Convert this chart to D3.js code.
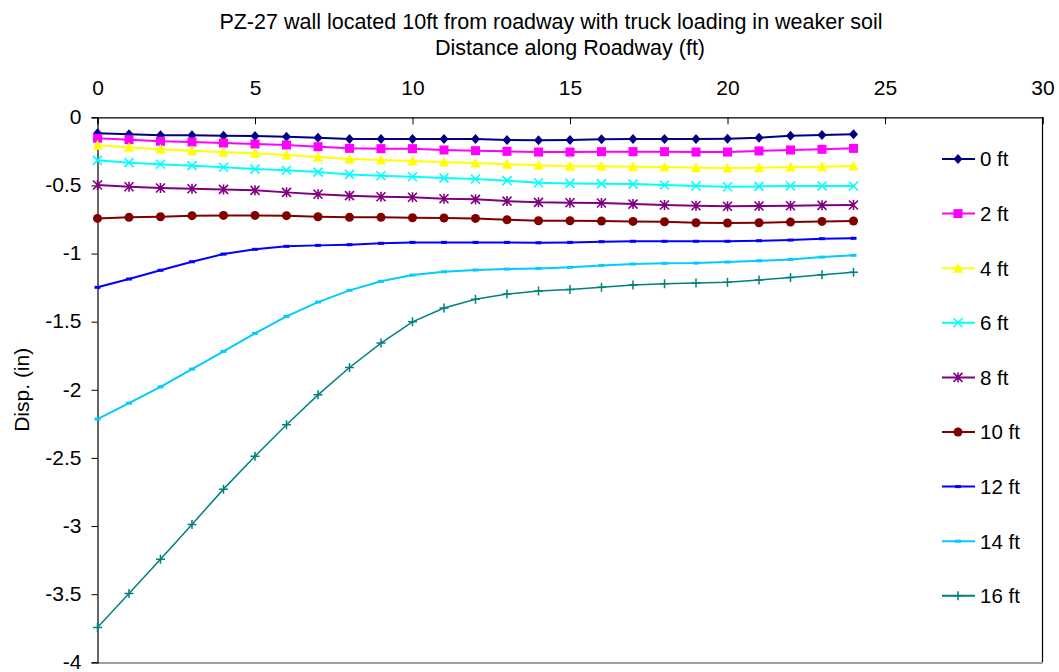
<!DOCTYPE html>
<html><head><meta charset="utf-8">
<script src="https://cdn.jsdelivr.net/npm/d3@7"></script>
<style>body{margin:0;background:#fff}svg{display:block}text{font-family:"Liberation Sans",Arial,sans-serif;fill:#000}</style>
</head><body><svg id="c" width="1059" height="672"></svg>
<script>
const xValues = d3.range(0, 25);
const xTicks = [0,5,10,15,20,25,30];
const yTicks = [0,-0.5,-1,-1.5,-2,-2.5,-3,-3.5,-4];
const seriesNames = ["0 ft","2 ft","4 ft","6 ft","8 ft","10 ft","12 ft","14 ft","16 ft"];
const s0 = [-0.117,-0.125,-0.132,-0.132,-0.135,-0.137,-0.142,-0.150,-0.159,-0.159,-0.159,-0.159,-0.159,-0.167,-0.169,-0.167,-0.162,-0.160,-0.160,-0.160,-0.157,-0.150,-0.135,-0.130,-0.125];
const s2 = [-0.154,-0.164,-0.176,-0.181,-0.189,-0.196,-0.203,-0.216,-0.228,-0.230,-0.230,-0.240,-0.245,-0.250,-0.255,-0.255,-0.252,-0.252,-0.252,-0.255,-0.255,-0.247,-0.240,-0.235,-0.228];
const s4 = [-0.206,-0.220,-0.235,-0.245,-0.257,-0.264,-0.277,-0.291,-0.306,-0.313,-0.321,-0.328,-0.336,-0.345,-0.352,-0.360,-0.360,-0.363,-0.365,-0.370,-0.372,-0.370,-0.365,-0.363,-0.358];
const s6 = [-0.316,-0.333,-0.345,-0.355,-0.367,-0.380,-0.389,-0.402,-0.419,-0.429,-0.436,-0.446,-0.453,-0.465,-0.480,-0.485,-0.487,-0.490,-0.497,-0.504,-0.510,-0.507,-0.504,-0.504,-0.504];
const s8 = [-0.497,-0.510,-0.519,-0.524,-0.529,-0.536,-0.551,-0.565,-0.575,-0.583,-0.587,-0.598,-0.602,-0.615,-0.624,-0.627,-0.629,-0.637,-0.644,-0.649,-0.653,-0.651,-0.649,-0.646,-0.644];
const s10 = [-0.742,-0.734,-0.730,-0.722,-0.720,-0.720,-0.722,-0.730,-0.734,-0.734,-0.737,-0.739,-0.742,-0.752,-0.759,-0.759,-0.761,-0.764,-0.767,-0.774,-0.776,-0.774,-0.769,-0.764,-0.761];
const s12 = [-1.248,-1.187,-1.123,-1.060,-1.004,-0.969,-0.947,-0.940,-0.935,-0.925,-0.918,-0.918,-0.918,-0.918,-0.921,-0.918,-0.913,-0.910,-0.910,-0.910,-0.910,-0.906,-0.901,-0.891,-0.888];
const s14 = [-2.215,-2.098,-1.978,-1.848,-1.718,-1.586,-1.461,-1.356,-1.270,-1.204,-1.158,-1.134,-1.121,-1.114,-1.109,-1.101,-1.087,-1.077,-1.072,-1.070,-1.062,-1.053,-1.043,-1.026,-1.013];
const s16 = [-3.745,-3.495,-3.243,-2.988,-2.729,-2.487,-2.257,-2.037,-1.836,-1.657,-1.501,-1.400,-1.336,-1.297,-1.275,-1.263,-1.248,-1.231,-1.221,-1.217,-1.210,-1.195,-1.175,-1.156,-1.138];
const seriesValues = [s0,s2,s4,s6,s8,s10,s12,s14,s16];
const colors = ["#000080","#FF00FF","#FFFF00","#00FFFF","#800080","#800000","#0000FF","#00CCFF","#008080"];
const markers = ["diamond","square","triangle","x","star","circle","dash","dash","plus"];

const svg = d3.select("#c");
const L = 97.5, R = 1042.5, T = 117.3, B = 662.3;
const x = d3.scaleLinear().domain([0,30]).range([L,R]);
const y = d3.scaleLinear().domain([0,-4]).range([T,B]);

// plot border (right, bottom)
svg.append("line").attr("x1",R).attr("x2",R).attr("y1",T).attr("y2",B).attr("stroke","#000").attr("stroke-width",1.2);
svg.append("line").attr("x1",L).attr("x2",R).attr("y1",B+0.7).attr("y2",B+0.7).attr("stroke","#808080").attr("stroke-width",1.5);

// axes
const xAxis = d3.axisTop(x).tickValues(xTicks).tickSize(-7).tickPadding(0).tickFormat(d3.format("d"));
const gx = svg.append("g").attr("transform",`translate(0,${T})`).call(xAxis);
gx.select(".domain").attr("stroke","#000").attr("stroke-width",1.2);
gx.selectAll(".tick line").attr("stroke","#000");
gx.selectAll(".tick text").attr("y",-22).attr("font-size",21);

const yAxis = d3.axisLeft(y).tickValues(yTicks).tickSize(6).tickPadding(10).tickFormat(d=>d===0?"0":String(d));
const gy = svg.append("g").attr("transform",`translate(${L},0)`).call(yAxis);
gy.select(".domain").attr("stroke","#000").attr("stroke-width",1.2);
gy.selectAll(".tick line").attr("stroke","#000");
gy.selectAll(".tick text").attr("font-size",21).attr("dy","0.3em");
svg.selectAll(".tick text").attr("font-family","'Liberation Sans',Arial,sans-serif");

// titles
svg.append("text").attr("x",551).attr("y",29).attr("text-anchor","middle").attr("font-size",21.5).text("PZ-27 wall located 10ft from roadway with truck loading in weaker soil");
svg.append("text").attr("x",570).attr("y",55).attr("text-anchor","middle").attr("font-size",21.5).text("Distance along Roadway (ft)");
svg.append("text").attr("transform",`translate(29,${(T+B)/2}) rotate(-90)`).attr("text-anchor","middle").attr("font-size",21).text("Disp. (in)");

function drawMarker(g, type, color){
  const s = 4.5;
  if(type==="diamond") g.append("path").attr("d",`M0,${-s-0.5}L${s},0L0,${s+0.5}L${-s},0Z`).attr("fill",color);
  else if(type==="square") g.append("rect").attr("x",-s).attr("y",-s).attr("width",2*s).attr("height",2*s).attr("fill",color);
  else if(type==="triangle") g.append("path").attr("d",`M0,${-s-1}L${s+0.5},${s}L${-s-0.5},${s}Z`).attr("fill",color);
  else if(type==="circle") g.append("circle").attr("r",s).attr("fill",color);
  else if(type==="x") g.append("path").attr("d",`M${-s},${-s}L${s},${s}M${-s},${s}L${s},${-s}`).attr("stroke",color).attr("stroke-width",1.6);
  else if(type==="star") g.append("path").attr("d",`M${-s},${-s}L${s},${s}M${-s},${s}L${s},${-s}M0,${-s-0.5}L0,${s+0.5}`).attr("stroke",color).attr("stroke-width",1.6);
  else if(type==="plus") g.append("path").attr("d",`M${-s},0L${s},0M0,${-s}L0,${s}`).attr("stroke",color).attr("stroke-width",1.5);
  else if(type==="dash") g.append("rect").attr("x",-3).attr("y",-1.5).attr("width",6).attr("height",3).attr("fill",color);
}

const line = d3.line().x((d,i)=>x(xValues[i])).y(d=>y(d));
seriesValues.forEach((vals,k)=>{
  const g = svg.append("g");
  g.append("path").attr("d",line(vals)).attr("fill","none").attr("stroke",colors[k]).attr("stroke-width",k===8?1.5:2);
  vals.forEach((v,i)=>{
    const m = g.append("g").attr("transform",`translate(${x(xValues[i])},${y(v)})`);
    drawMarker(m, markers[k], colors[k]);
  });
});

// legend
const leg = svg.append("g");
seriesNames.forEach((name,k)=>{
  const cy = 159 + k*54.6;
  const g = leg.append("g").attr("transform",`translate(0,${cy})`);
  g.append("line").attr("x1",942).attr("x2",975).attr("y1",0).attr("y2",0).attr("stroke",colors[k]).attr("stroke-width",2);
  const m = g.append("g").attr("transform","translate(958,0)");
  drawMarker(m, markers[k], colors[k]);
  g.append("text").attr("x",980).attr("y",0).attr("dy","0.36em").attr("font-size",20.5).text(name);
});
</script></body></html>
